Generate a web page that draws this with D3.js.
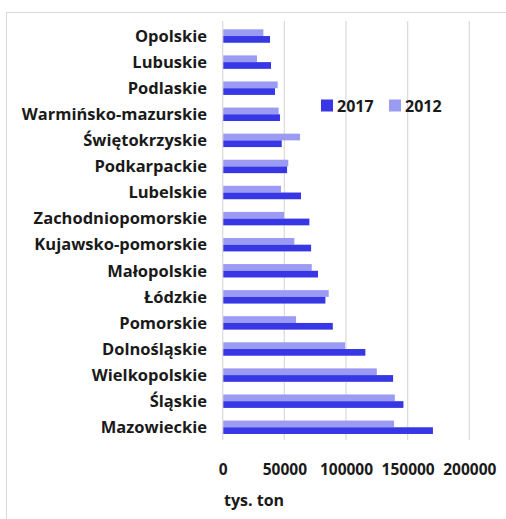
<!DOCTYPE html>
<html><head><meta charset="utf-8">
<script src="https://cdn.jsdelivr.net/npm/d3@7"></script>
<style>body{margin:0;background:#fff}svg{display:block}text{font-family:"Open Sans",sans-serif}</style>
</head><body><svg id="c" width="506" height="519"></svg>
<script>
const categories = ["Opolskie","Lubuskie","Podlaskie","Warmińsko-mazurskie","Świętokrzyskie","Podkarpackie","Lubelskie","Zachodniopomorskie","Kujawsko-pomorskie","Małopolskie","Łódzkie","Pomorskie","Dolnośląskie","Wielkopolskie","Śląskie","Mazowieckie"];
const values2017 = [38400,39200,42400,46500,47900,52200,63500,70300,71700,77300,83300,89300,115700,138200,146600,170500];
const values2012 = [33000,27800,44600,45400,62700,53200,47300,49800,58100,72200,86000,59500,99300,125000,139600,139000];
const seriesNames = ["2017","2012"];
const seriesColors = ["#3737e6","#9b9bf4"];
const tickValues = [0,50000,100000,150000,200000];
const axisTitle = "tys. ton";

const svg = d3.select("#c");
svg.append("rect").attr("x",6.5).attr("y",12.5).attr("width",510).attr("height",520)
  .attr("fill","none").attr("stroke","#d9d9d9");

const x = d3.scaleLinear().domain([0,200000]).range([222.7,469.3]);
const y = d3.scaleBand().domain(categories).range([23,440.3]).paddingInner(0.485).paddingOuter(0.2425);
const sub = d3.scaleBand().domain(["2012","2017"]).range([0,y.bandwidth()]);

svg.append("g").selectAll("line").data(tickValues.slice(1)).join("line")
  .attr("x1",d=>x(d)).attr("x2",d=>x(d)).attr("y1",21).attr("y2",440.3)
  .attr("stroke","#dcdcdc").attr("stroke-width",1.3);

const rows = categories.map((c,i)=>({c, v17:values2017[i], v12:values2012[i]}));
const g = svg.append("g");
g.selectAll("rect.b12").data(rows).join("rect").attr("class","b12")
  .attr("x",x(0)).attr("y",d=>y(d.c)+sub("2012")).attr("height",sub.bandwidth())
  .attr("width",d=>x(d.v12)-x(0)).attr("fill",seriesColors[1]);
g.selectAll("rect.b17").data(rows).join("rect").attr("class","b17")
  .attr("x",x(0)).attr("y",d=>y(d.c)+sub("2017")).attr("height",sub.bandwidth())
  .attr("width",d=>x(d.v17)-x(0)).attr("fill",seriesColors[0]);

svg.append("line").attr("x1",x(0)).attr("x2",x(0)).attr("y1",21).attr("y2",440.3)
  .attr("stroke","#dcdcdc").attr("stroke-width",1.3);

const yAxis = d3.axisLeft(y).tickSize(0).tickPadding(0);
const ya = svg.append("g").attr("transform","translate(207,0)").call(yAxis);
ya.select(".domain").remove();
ya.selectAll("text").attr("font-size",16.5).attr("font-weight",700).attr("fill","#1a1a1a")
  .style("font-family","'Open Sans',sans-serif").attr("dy","0.35em");

const xAxis = d3.axisBottom(x).tickValues(tickValues).tickSize(0).tickPadding(0).tickFormat(d3.format("d"));
const xa = svg.append("g").attr("transform","translate(0,470)").call(xAxis);
xa.select(".domain").remove();
xa.selectAll("text").attr("font-size",15.5).attr("font-weight",700).attr("fill","#1a1a1a")
  .style("font-family","'Open Sans',sans-serif").attr("dy","0.35em").attr("y",0).attr("textLength",null);

svg.append("text").attr("x",224).attr("y",500).attr("dy","0.35em").attr("font-size",16)
  .attr("font-weight",700).attr("fill","#1a1a1a").text(axisTitle);

const leg = svg.append("g");
const lx = [321, 389];
seriesNames.forEach((s,i)=>{
  leg.append("rect").attr("x",lx[i]).attr("y",99.5).attr("width",12).attr("height",12).attr("fill",seriesColors[i]);
  leg.append("text").attr("x",lx[i]+16).attr("y",106).attr("dy","0.35em").attr("font-size",16)
    .attr("font-weight",700).attr("fill","#1a1a1a").text(s);
});
</script></body></html>
